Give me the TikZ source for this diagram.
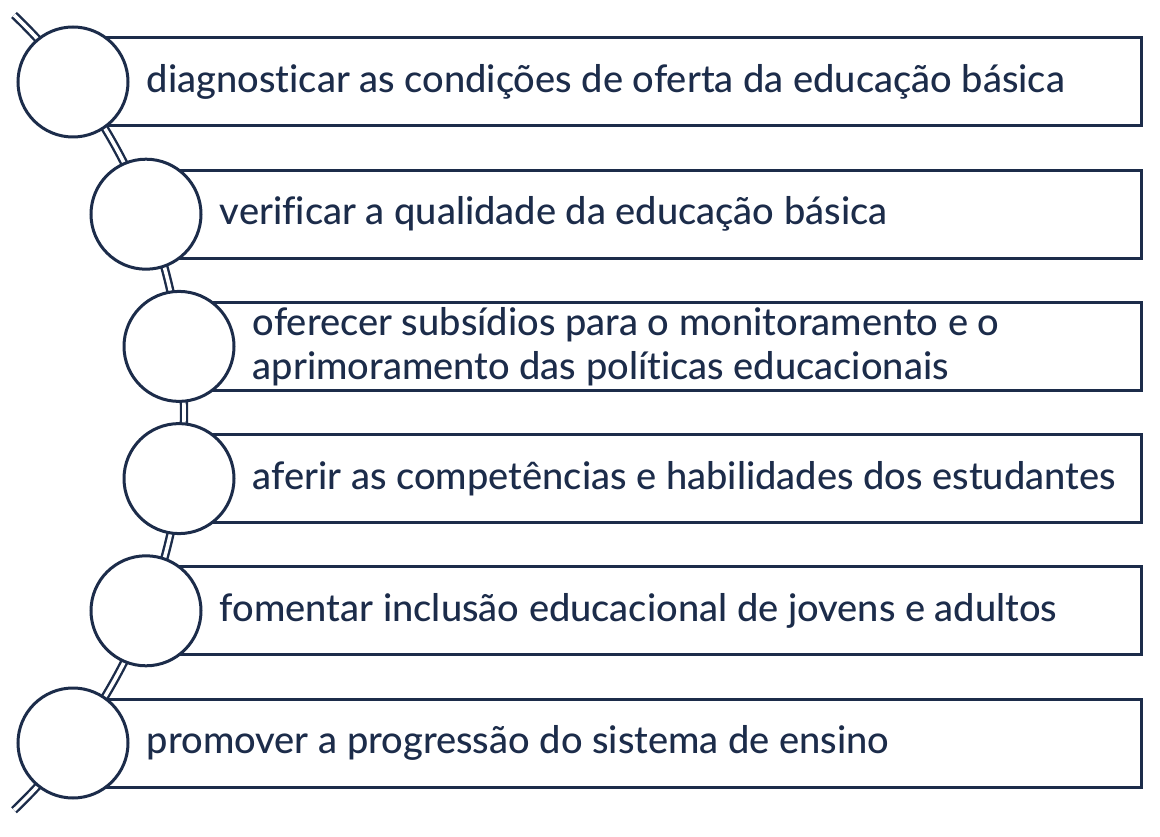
\documentclass[tikz,border=0pt]{standalone}
\usepackage{fontspec}
\setmainfont{Lato}[UprightFont={* Medium},Ligatures={NoCommon}]
\usepackage{xcolor}
\definecolor{navy}{RGB}{28,44,74}

\begin{document}
\begin{tikzpicture}[x=0.5pt,y=0.5pt,
    spine/.style={draw=navy,line width=1.2pt,double=white,double distance=1.8pt},
    slot/.style={draw=navy,line width=1.5pt,anchor=west,minimum height=44pt,inner sep=0pt},
    bead/.style={circle,draw=navy,line width=1.5pt,fill=white,minimum size=55pt,inner sep=0pt},
    goal/.style={anchor=west,text=navy,align=left,inner sep=0pt,font=\fontsize{19}{22}\selectfont}]
    \useasboundingbox (0,0) rectangle (1160,836);

    \coordinate (top) at (14,821);
    \draw[spine] (top) arc[start angle=46.3,end angle=-46.3,radius=550];

    \foreach \x/\t [count=\i] in {73/{diagnosticar as condições de oferta da educação básica},
        146/{verificar a qualidade da educação básica},
        179/{oferecer subsídios para o monitoramento e o\\aprimoramento das políticas educacionais},
        179/{aferir as competências e habilidades dos estudantes},
        146/{fomentar inclusão educacional de jovens e adultos},
        73/{promover a progressão do sistema de ensino}} {
      \pgfmathsetmacro\y{754-(\i-1)*132.2}
      \node[slot,minimum width={(1140-\x)*0.5pt}] (r\i) at (\x,\y) {};
      \node[bead] (c\i) at (\x,\y) {};
      \node[goal] (t\i) at ([xshift=8.5pt]c\i.east) {\t};
    }
  \end{tikzpicture}
\end{document}
